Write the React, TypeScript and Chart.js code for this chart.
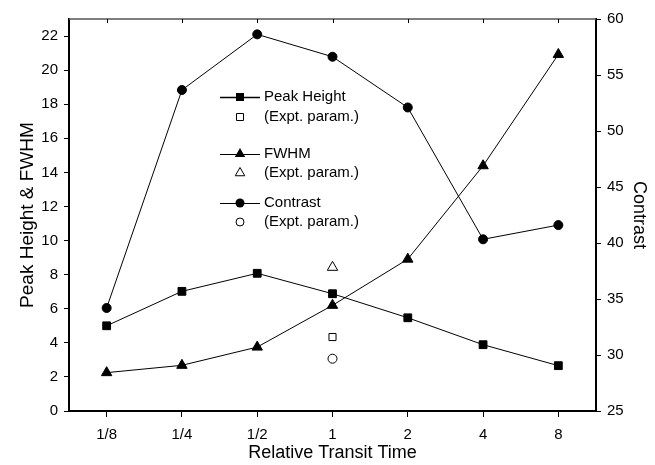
import React, { useEffect, useRef } from 'react';
import { Chart, registerables } from 'chart.js';

Chart.register(...registerables);

const FONT = '"Liberation Sans", Arial, Helvetica, sans-serif';

const categories = ['1/8', '1/4', '1/2', '1', '2', '4', '8'];
const peakHeight = [5.0, 7.02, 8.08, 6.88, 5.47, 3.89, 2.66];
const fwhm = [2.25, 2.68, 3.75, 6.2, 8.91, 14.39, 20.92];
const contrast = [34.2, 53.66, 58.63, 56.63, 52.1, 40.33, 41.6];
const exptPeakHeight = [null, null, null, 4.34, null, null, null];
const exptFwhm = [null, null, null, 8.43, null, null, null];
const exptContrast = [null, null, null, 29.67, null, null, null];

const leftAxisTitle = 'Peak Height & FWHM';
const rightAxisTitle = 'Contrast';
const xAxisTitle = 'Relative Transit Time';

const legendItems = [
  { label: 'Peak Height', style: 'rect', filled: true, line: true },
  { label: '(Expt. param.)', style: 'rect', filled: false, line: false },
  { label: 'FWHM', style: 'triangle', filled: true, line: true },
  { label: '(Expt. param.)', style: 'triangle', filled: false, line: false },
  { label: 'Contrast', style: 'circle', filled: true, line: true },
  { label: '(Expt. param.)', style: 'circle', filled: false, line: false },
];

function drawMarker(ctx: CanvasRenderingContext2D, style: string, x: number, y: number, filled: boolean) {
  ctx.beginPath();
  if (style === 'rect') {
    const s = filled ? 4 : 3.5;
    ctx.rect(x - s, y - s, 2 * s, 2 * s);
  } else if (style === 'triangle') {
    const r = filled ? 6 : 5.5;
    ctx.moveTo(x, y - r);
    ctx.lineTo(x + r * 0.866, y + r * 0.5);
    ctx.lineTo(x - r * 0.866, y + r * 0.5);
    ctx.closePath();
  } else {
    ctx.arc(x, y, filled ? 4.5 : 4, 0, Math.PI * 2);
  }
  if (filled) {
    ctx.fillStyle = '#000';
    ctx.fill();
  } else {
    ctx.fillStyle = '#fff';
    ctx.fill();
    ctx.lineWidth = 1;
    ctx.strokeStyle = '#000';
    ctx.stroke();
  }
}

const framePlugin = {
  id: 'framePlugin',
  afterDraw(chart: any) {
    const { ctx, chartArea } = chart;
    const xs = chart.scales.x;
    ctx.save();
    ctx.strokeStyle = '#555';
    ctx.lineWidth = 1.5;
    ctx.beginPath();
    ctx.moveTo(chartArea.left, chartArea.top);
    ctx.lineTo(chartArea.right, chartArea.top);
    ctx.stroke();
    ctx.strokeStyle = '#000';
    ctx.lineWidth = 1;
    ctx.beginPath();
    for (let i = 0; i < xs.ticks.length; i++) {
      const px = Math.round(xs.getPixelForTick(i)) + 0.5;
      ctx.moveTo(px, chartArea.top);
      ctx.lineTo(px, chartArea.top + 4);
    }
    ctx.stroke();

    // legend
    const lineX0 = 220;
    const lineX1 = 260;
    const markX = 240;
    const textX = 264;
    const ys = [97, 117, 154, 173, 203, 222];
    ctx.font = '15px ' + FONT;
    ctx.textBaseline = 'middle';
    ctx.textAlign = 'left';
    legendItems.forEach((item, i) => {
      const y = ys[i];
      if (item.line) {
        ctx.strokeStyle = '#000';
        ctx.lineWidth = item.style === 'rect' ? 1.5 : 1;
        ctx.beginPath();
        ctx.moveTo(lineX0, y + 0.5);
        ctx.lineTo(lineX1, y + 0.5);
        ctx.stroke();
      }
      drawMarker(ctx, item.style, markX, y, item.filled);
      ctx.fillStyle = '#000';
      ctx.fillText(item.label, textX, y);
    });
    ctx.restore();
  },
};

export default function App() {
  const ref = useRef<HTMLCanvasElement | null>(null);

  useEffect(() => {
    if (!ref.current) return;
    const lineBase = {
      borderColor: '#000',
      borderWidth: 1,
      pointBorderColor: '#000',
      pointBorderWidth: 1,
      fill: false,
      tension: 0,
    };
    const chart = new Chart(ref.current, {
      type: 'line',
      data: {
        labels: categories,
        datasets: [
          { ...lineBase, label: 'Peak Height', data: peakHeight, yAxisID: 'y', pointStyle: 'rect', pointRadius: 5.5, pointBackgroundColor: '#000' },
          { ...lineBase, label: 'FWHM', data: fwhm, yAxisID: 'y', pointStyle: 'triangle', pointRadius: 6, pointBackgroundColor: '#000' },
          { ...lineBase, label: 'Contrast', data: contrast, yAxisID: 'y2', pointStyle: 'circle', pointRadius: 4.5, pointBackgroundColor: '#000' },
          { ...lineBase, label: 'Peak Height (Expt. param.)', data: exptPeakHeight, yAxisID: 'y', showLine: false, pointStyle: 'rect', pointRadius: 5, pointBackgroundColor: '#fff' },
          { ...lineBase, label: 'FWHM (Expt. param.)', data: exptFwhm, yAxisID: 'y', showLine: false, pointStyle: 'triangle', pointRadius: 6, pointBackgroundColor: '#fff' },
          { ...lineBase, label: 'Contrast (Expt. param.)', data: exptContrast, yAxisID: 'y2', showLine: false, pointStyle: 'circle', pointRadius: 4.5, pointBackgroundColor: '#fff' },
        ],
      },
      options: {
        responsive: false,
        animation: false,
        layout: { padding: { top: 19, left: 0, right: 0, bottom: 0 } },
        plugins: { legend: { display: false }, tooltip: { enabled: false } },
        scales: {
          x: {
            type: 'category',
            offset: true,
            grid: { display: true, drawOnChartArea: false, drawTicks: true, tickLength: 6, tickColor: '#000', tickWidth: 1 },
            border: { display: true, color: '#000', width: 2 },
            ticks: { color: '#000', font: { family: FONT, size: 15 }, padding: 9, maxRotation: 0 },
            title: { display: true, text: xAxisTitle, color: '#000', font: { family: FONT, size: 18 }, padding: { top: 0, bottom: 1 } },
            afterFit: (s: any) => { s.height = 54; },
          },
          y: {
            type: 'linear',
            position: 'left',
            min: 0,
            max: 23,
            grid: { display: true, drawOnChartArea: false, drawTicks: true, tickLength: 5, tickColor: '#000', tickWidth: 1 },
            border: { display: true, color: '#000', width: 2 },
            ticks: { stepSize: 2, includeBounds: false, color: '#000', font: { family: FONT, size: 15 }, padding: 6 },
            title: { display: true, text: leftAxisTitle, color: '#000', font: { family: FONT, size: 19 }, padding: { top: 16, bottom: 0 } },
            afterFit: (s: any) => { s.width = 69; },
          },
          y2: {
            type: 'linear',
            position: 'right',
            min: 25,
            max: 60,
            grid: { display: true, drawOnChartArea: false, drawTicks: true, tickLength: 5, tickColor: '#000', tickWidth: 1 },
            border: { display: true, color: '#000', width: 2 },
            ticks: { stepSize: 5, color: '#000', font: { family: FONT, size: 15 }, padding: 6 },
            title: { display: true, text: rightAxisTitle, color: '#000', font: { family: FONT, size: 18 }, padding: { top: 5, bottom: 0 } },
            afterFit: (s: any) => { s.width = 59; },
          },
        },
      },
      plugins: [framePlugin],
    } as any);
    return () => chart.destroy();
  }, []);

  return (
    <div style={{ position: 'absolute', left: 0, top: 0, width: 655, height: 465, background: '#fff' }}>
      <canvas ref={ref} width={655} height={465} style={{ display: 'block' }} />
    </div>
  );
}
